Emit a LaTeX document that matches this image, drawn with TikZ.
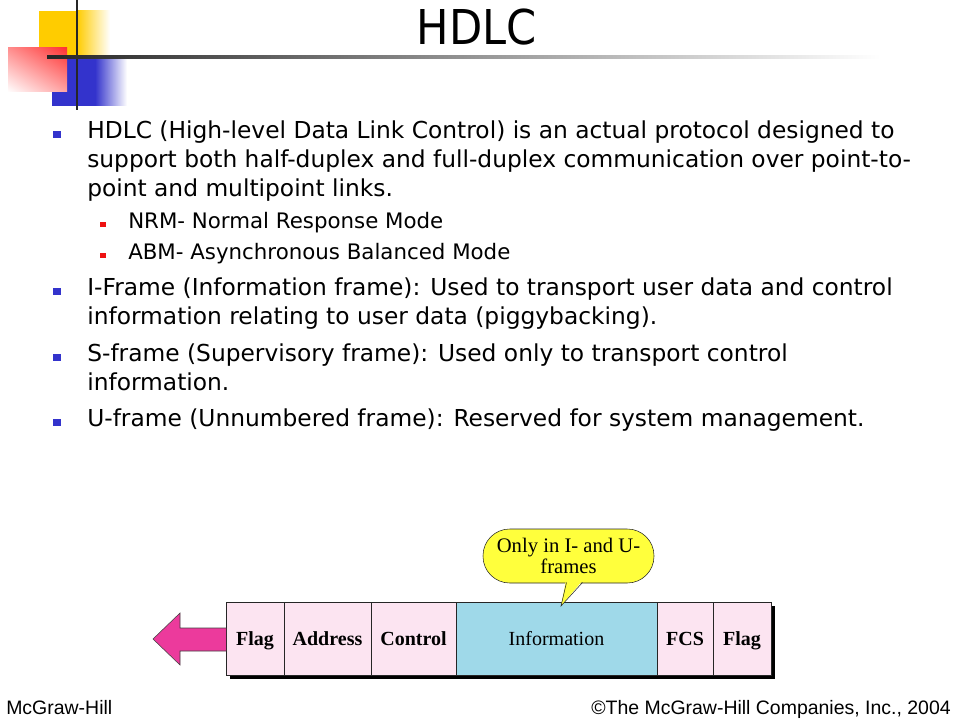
\documentclass[tikz,border=0pt]{standalone}
\usepackage{fontspec}
\setmainfont{Liberation Serif}
\newfontfamily\titlefont[FakeStretch=0.9]{DejaVu Sans}
\newfontfamily\slidefont{DejaVu Sans}
\newfontfamily\footfont{Liberation Sans}
\usepackage{tikz}
\usetikzlibrary{positioning,calc,shadings}

\newlength{\pxu}
\setlength{\pxu}{0.75pt}

\definecolor{cellpink}{HTML}{FCE4F1}
\definecolor{infoblue}{HTML}{9FD9E9}
\definecolor{arrowpink}{HTML}{EC3A9C}
\definecolor{bubbleyellow}{HTML}{FFFF3C}
\definecolor{bulletblue}{HTML}{3333CC}
\definecolor{bulletred}{HTML}{EE1111}
\definecolor{logoyellow}{HTML}{FFCC00}
\definecolor{logored}{HTML}{FF3333}
\definecolor{logoblue}{HTML}{3333CC}

\begin{document}
\begin{tikzpicture}[
x=0.75pt, y=-0.75pt,
cell/.style={
  draw=black!85,
  fill=cellpink,
  minimum height=73\pxu,
  inner sep=0pt,
  outer sep=0pt,
  text height=10pt,
  text depth=0pt,
  font=\bfseries\fontsize{15}{18}\selectfont},
body/.style={
  anchor=base west,
  inner sep=0pt,
  font=\slidefont\fontsize{17.5}{21}\selectfont},
subbody/.style={
  anchor=base west,
  inner sep=0pt,
  font=\slidefont\fontsize{16}{19}\selectfont},
foot/.style={
  inner sep=0pt,
  font=\footfont\fontsize{14.6}{16}\selectfont}
]
\useasboundingbox (0,0) rectangle (960,720);
% logo
\fill[logoyellow] (39,11) rectangle (77,57);
\shade[left color=logoyellow, right color=white] (77,11) rectangle (110,57);
\fill[logoblue] (52,57) rectangle (95,106);
\shade[left color=logoblue, right color=white] (95,57) rectangle (127,106);
\shade[upper right=logored, upper left=logored!55, lower right=logored!45, lower left=white]
  (8,48) rectangle (67,92);
\draw[black!85, line width=2.5\pxu] (77,0) -- (77,110);
\shade[left color=black!85, right color=white] (47,55.6) rectangle (880,58.4);
\node[anchor=base, inner sep=0pt, font=\titlefont\fontsize{36}{40}\selectfont]
  (title) at (476.5,45) {HDLC};
% bullets
\foreach \b in {139,296,361,426}
  \fill[bulletblue] (53,\b-7.5) rectangle (60.5,\b-0.5);
\foreach \b in {229,260}
  \fill[bulletred] (100,\b-7) rectangle (106,\b-1.5);
\node[body] (l1) at (87,139) {HDLC (High-level Data Link Control) is an actual protocol designed to};
\node[body] (l2) at (87,168) {support both half-duplex and full-duplex communication over point-to-};
\node[body] (l3) at (87,197) {point and multipoint links.};
\node[subbody] (nrm) at (128,229) {NRM- Normal Response Mode};
\node[subbody] (abm) at (128,260) {ABM- Asynchronous Balanced Mode};
\node[body] (l4) at (87,296) {I-Frame (Information frame): Used to transport user data and control};
\node[body] (l5) at (87,325) {information relating to user data (piggybacking).};
\node[body] (l6) at (87,361) {S-frame (Supervisory frame): Used only to transport control};
\node[body] (l7) at (87,390) {information.};
\node[body] (l8) at (87,426) {U-frame (Unnumbered frame): Reserved for system management.};
% frame
\fill[black] (230,606) rectangle (775,679);
\node[cell, minimum width=58\pxu, anchor=west] (flagL) at (226,638.5) {Flag};
\node[cell, minimum width=87\pxu, right=0pt of flagL] (addr) {Address};
\node[cell, minimum width=85\pxu, right=0pt of addr] (ctrl) {Control};
\node[cell, minimum width=201\pxu, right=0pt of ctrl, fill=infoblue, font=\fontsize{15}{18}\selectfont] (info) {Information};
\node[cell, minimum width=56\pxu, right=0pt of info] (fcs) {FCS};
\node[cell, minimum width=58\pxu, right=0pt of fcs] (flagR) {Flag};
\draw[fill=arrowpink, draw=black!75]
  (226,628) -- (180,628) -- (180,613) -- (153,639) -- (180,665) -- (180,651) -- (226,651);
% callout
\node[draw=black!85, fill=bubbleyellow, rounded corners=20pt, minimum width=171\pxu,
  minimum height=54\pxu, inner sep=0pt, align=center, font=\fontsize{15.5}{14}\selectfont]
  (bubble) at (568.5,556) {Only in I- and U-\\frames};
\fill[bubbleyellow] (566,580) -- (583,580) -- (561,606) -- cycle;
\draw[black!85] (566.5,582.5) -- (561,606) -- (582.5,582.5);
% footer
\node[foot, anchor=base west] (mgh) at (6,714) {McGraw-Hill};
\node[foot, anchor=base east] (copy) at (951,714) {\textcopyright The McGraw-Hill Companies, Inc., 2004};
\end{tikzpicture}
\end{document}
